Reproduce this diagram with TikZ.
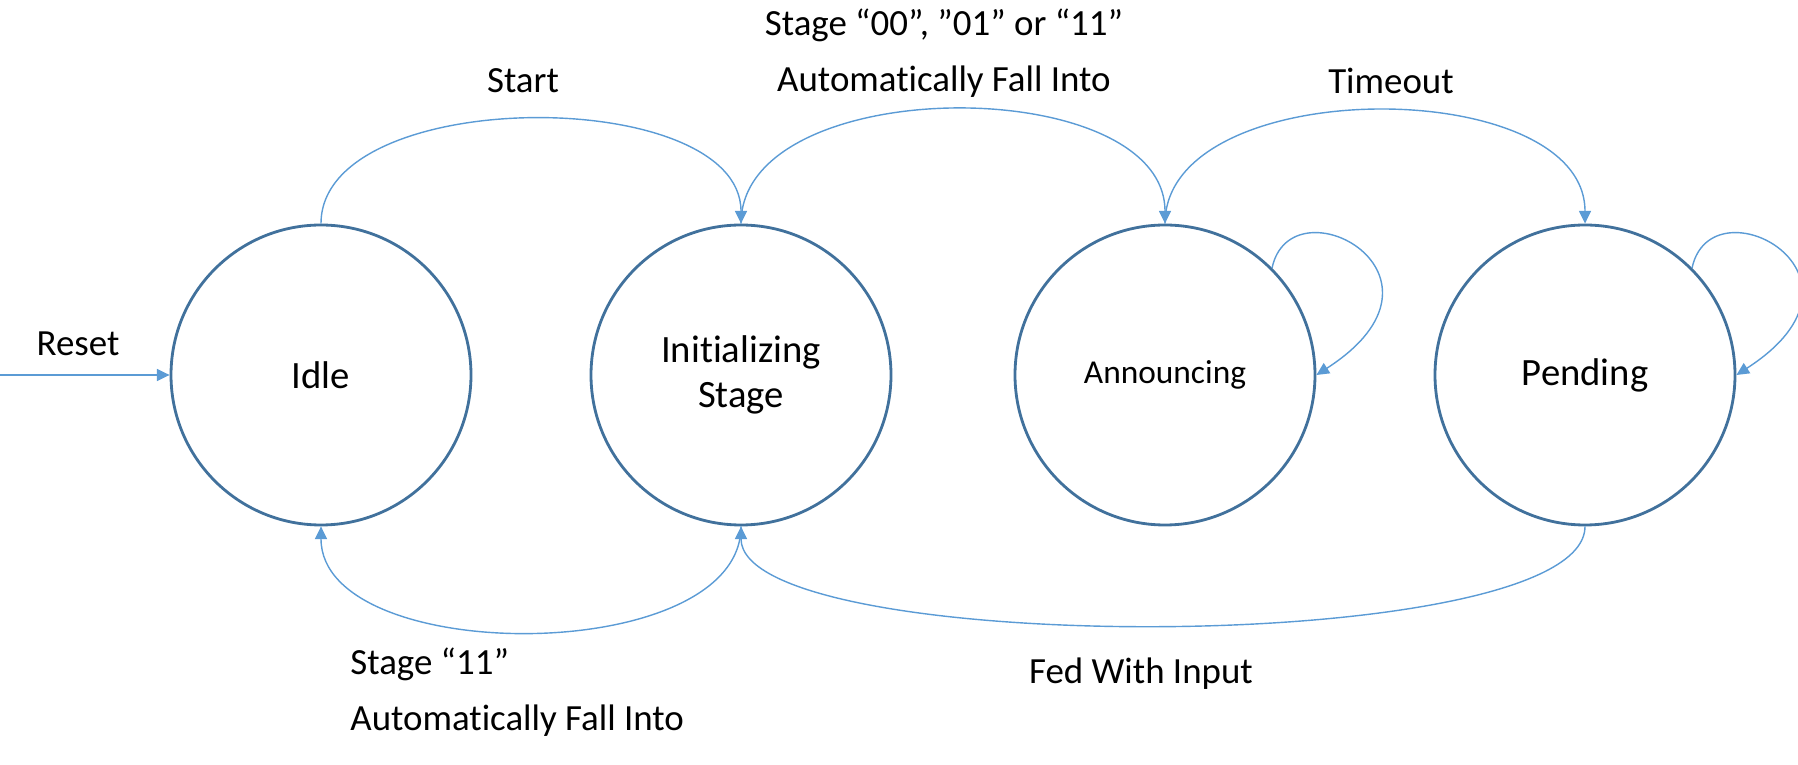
\documentclass[tikz,border=0pt]{standalone}
\usepackage{fontspec}
\setmainfont[Ligatures=NoCommon, RawFeature={-calt;-liga;-dlig}]{Carlito}
\usepackage{tikz}
\usetikzlibrary{arrows.meta}
\definecolor{sblue}{RGB}{65,113,156}
\definecolor{lblue}{RGB}{91,155,213}

\begin{document}
\begin{tikzpicture}[font=\fontsize{10.5}{16}\selectfont,
  state/.style={circle, draw=sblue, line width=0.8pt, minimum size=3cm, inner sep=0pt, align=center, font=\fontsize{11}{12.8}\selectfont},
  trans/.style={draw=lblue, line width=0.4pt, -{Triangle[length=3.6pt,width=3.4pt]}}]
  \useasboundingbox (0,0) rectangle (17.98,7.65);

  % States
  \node[state] (idle) at (3.21,3.90) {Idle};
  \node[state] (init) at (7.41,3.90) {Initializing\\Stage};
  \node[state, font=\fontsize{9.5}{12}\selectfont] (ann) at (11.65,3.90) {Announcing};
  \node[state] (pend) at (15.85,3.90) {Pending};

  % Reset
  \coordinate (rst) at (0,3.90);
  \draw[trans] (rst) -- (idle.west);
  \node (lrst) at (0.78,4.21) {Reset};

  % Upper arcs
  \draw[trans] (idle.north) to[out=90,in=90,looseness=0.85] (init.north);
  \draw[trans] (init.north) to[out=90,in=90,looseness=0.92] (ann.north);
  \draw[trans] (ann.north) to[out=90,in=90,looseness=0.92] (pend.north);
  \node (lstart) at (5.23,6.84) {Start};
  \node[align=center] (lfall) at (9.44,7.12) {Stage “00”, ”01” or “11”\\Automatically Fall Into};
  \node (ltime) at (13.91,6.84) {Timeout};

  % Self loops
  \draw[trans] (ann.45) .. controls +(0.19,0.89) and +(1.55,1.0) .. (ann.east);
  \draw[trans] (pend.45) .. controls +(0.19,0.89) and +(1.55,1.0) .. (pend.east);

  % Lower arcs
  \draw[trans] (init.south) to[out=-90,in=-90,looseness=0.86] (idle.south);
  \draw[trans] (pend.south) to[out=-90,in=-90,looseness=0.4] (init.south);
  \node[anchor=west, align=left] (lstay) at (3.38,0.725) {Stage “11”\\Automatically Fall Into};
  \node (lfed) at (11.41,0.91) {Fed With Input};
\end{tikzpicture}
\end{document}
